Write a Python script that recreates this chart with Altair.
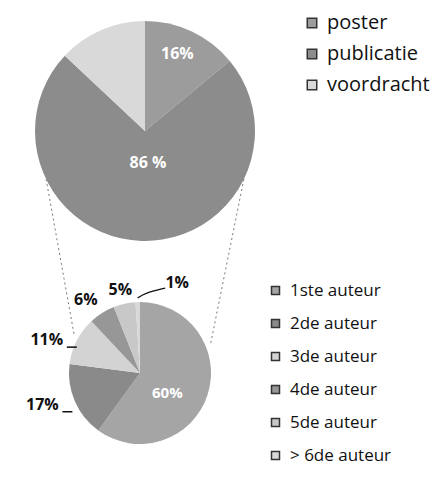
import altair as alt
import numpy as np
import pandas as pd

# ---------------- data ----------------
top_categories = ["poster", "publicatie", "voordracht"]
top_values = [14, 73, 13]
top_labels = ["16%", "86 %", ""]

bottom_categories = ["1ste auteur", "2de auteur", "3de auteur",
                     "4de auteur", "5de auteur", "> 6de auteur"]
bottom_values = [60, 17, 11, 6, 5, 1]
bottom_labels = ["60%", "17%", "11%", "6%", "5%", "1%"]

# ---------------- style / layout ----------------
top_colors = ["#9c9c9c", "#8c8c8c", "#d9d9d9"]
bottom_colors = ["#a5a5a5", "#8a8a8a", "#d3d3d3", "#979797", "#c8c8c8", "#d8d8d8"]

W, H = 428, 463
OFF = 8
TOP_C = (145 - OFF, 131 - OFF)
TOP_R = 110
BOT_C = (140 - OFF, 373 - OFF)
BOT_R = 71

# label placement: radius, dx, dy (layout only)
TOP_LABEL_POS = {"poster": (83, -3, -2), "publicatie": (32, 4, 0), "voordracht": (80, 0, 0)}
BOT_LABEL_POS = {
    "1ste auteur": (34, -5, 9),
    "2de auteur": (90, -15, -4),
    "3de auteur": (90, -13, 8),
    "4de auteur": (90, -6, 3),
    "5de auteur": (90, 0, 5),
    "> 6de auteur": (90, 40, 0),
}
BOT_OUTSIDE = ["2de auteur", "3de auteur", "4de auteur", "5de auteur", "> 6de auteur"]
BOT_TICK_LEADER = ["2de auteur", "3de auteur"]
FONT = "Open Sans"


def pie_frame(cats, vals, labels, center, placement):
    v = np.array(vals, dtype=float)
    frac = v / v.sum()
    end = np.cumsum(frac) * 2 * np.pi
    start = end - frac * 2 * np.pi
    mid = (start + end) / 2
    df = pd.DataFrame({"cat": cats, "value": vals, "label": labels,
                       "t0": start, "t1": end, "mid": mid})
    lr = np.array([placement[c][0] for c in cats], dtype=float)
    dx = np.array([placement[c][1] for c in cats], dtype=float)
    dy = np.array([placement[c][2] for c in cats], dtype=float)
    df["lx"] = center[0] + lr * np.sin(mid) + dx
    df["ly"] = center[1] - lr * np.cos(mid) + dy
    return df


top_df = pie_frame(top_categories, top_values, top_labels, TOP_C, TOP_LABEL_POS)
bot_df = pie_frame(bottom_categories, bottom_values, bottom_labels, BOT_C, BOT_LABEL_POS)

# ---------------- pies ----------------
top_arc = alt.Chart(top_df).mark_arc(outerRadius=TOP_R).encode(
    x=alt.value(TOP_C[0]), y=alt.value(TOP_C[1]),
    theta=alt.Theta("t0:Q", scale=None), theta2="t1",
    color=alt.Color(
        "cat:N",
        scale=alt.Scale(domain=top_categories, range=top_colors),
        sort=top_categories,
        legend=alt.Legend(
            title=None, orient="none", legendX=294, legendY=5, padding=0,
            symbolType="square", symbolSize=90, symbolStrokeColor="#333",
            symbolStrokeWidth=1.5, labelFont=FONT, labelFontSize=20,
            labelColor="#111", labelOffset=5, rowPadding=11,
        ),
    ),
)

bot_arc = alt.Chart(bot_df).mark_arc(outerRadius=BOT_R).encode(
    x=alt.value(BOT_C[0]), y=alt.value(BOT_C[1]),
    theta=alt.Theta("t0:Q", scale=None), theta2="t1",
    color=alt.Color(
        "cat:N",
        scale=alt.Scale(domain=bottom_categories, range=bottom_colors),
        sort=bottom_categories,
        legend=alt.Legend(
            title=None, orient="none", legendX=259, legendY=274, padding=0,
            symbolType="square", symbolSize=64, symbolStrokeColor="#333",
            symbolStrokeWidth=1.5, labelFont=FONT, labelFontSize=17,
            labelColor="#111", labelOffset=6, rowPadding=15,
        ),
    ),
)

# ---------------- labels ----------------
top_text = alt.Chart(top_df).mark_text(
    font=FONT, fontSize=16, fontWeight="bold", color="white", baseline="middle"
).encode(
    x=alt.X("lx:Q", scale=None, axis=None),
    y=alt.Y("ly:Q", scale=None, axis=None),
    text="label:N",
)

bot_in = bot_df[~bot_df["cat"].isin(BOT_OUTSIDE)]
bot_out = bot_df[bot_df["cat"].isin(BOT_OUTSIDE)]

bot_text_in = alt.Chart(bot_in).mark_text(
    font=FONT, fontSize=15, fontWeight="bold", color="white", baseline="middle"
).encode(
    x=alt.X("lx:Q", scale=None, axis=None),
    y=alt.Y("ly:Q", scale=None, axis=None),
    text="label:N",
)

bot_text_out = alt.Chart(bot_out).mark_text(
    font=FONT, fontSize=16, fontWeight="bold", color="#111", baseline="middle"
).encode(
    x=alt.X("lx:Q", scale=None, axis=None),
    y=alt.Y("ly:Q", scale=None, axis=None),
    text="label:N",
)

# short leader ticks (17%, 11%)
tick_df = bot_df[bot_df["cat"].isin(BOT_TICK_LEADER)].copy()
tick_df["x1"] = tick_df["lx"] + 20
tick_df["x2"] = tick_df["lx"] + 30
tick_df["yy"] = tick_df["ly"] + 7
ticks = alt.Chart(tick_df).mark_rule(color="#111", strokeWidth=1.5).encode(
    x=alt.X("x1:Q", scale=None, axis=None), x2="x2:Q",
    y=alt.Y("yy:Q", scale=None, axis=None),
)

# curved leader for the 1% label
one = bot_df[bot_df["cat"] == "> 6de auteur"].iloc[0]
sx = BOT_C[0] + (BOT_R + 4) * np.sin(one["mid"])
sy = BOT_C[1] - (BOT_R + 4) * np.cos(one["mid"])
ex, ey = one["lx"] - 12, one["ly"] + 5
leader_df = pd.DataFrame({
    "px": [sx, sx + 7, ex],
    "py": [sy, sy - 5, ey],
    "k": [0, 1, 2],
})
leader = alt.Chart(leader_df).mark_line(color="#111", strokeWidth=1.3, interpolate="basis").encode(
    x=alt.X("px:Q", scale=None, axis=None),
    y=alt.Y("py:Q", scale=None, axis=None),
    order="k:O",
)

# ---------------- connector lines between the pies ----------------
ang_top = np.deg2rad([244, 116])
ang_bot = np.deg2rad([300, 68])
conn_df = pd.DataFrame({
    "x1": TOP_C[0] + TOP_R * np.sin(ang_top),
    "y1": TOP_C[1] - TOP_R * np.cos(ang_top),
    "x2": BOT_C[0] + (BOT_R + 5) * np.sin(ang_bot),
    "y2": BOT_C[1] - (BOT_R + 5) * np.cos(ang_bot),
})
connectors = alt.Chart(conn_df).mark_rule(color="#777", strokeWidth=1, strokeDash=[2, 3]).encode(
    x=alt.X("x1:Q", scale=None, axis=None), x2="x2:Q",
    y=alt.Y("y1:Q", scale=None, axis=None), y2="y2:Q",
)

chart = alt.layer(
    connectors, top_arc, bot_arc, top_text, bot_text_in, bot_text_out, ticks, leader
).resolve_scale(
    color="independent"
).properties(
    width=W, height=H, autosize="none", padding=0, background="white"
).configure_view(strokeWidth=0)

chart.save("out.html", embed_options={"renderer": "svg", "actions": False})
